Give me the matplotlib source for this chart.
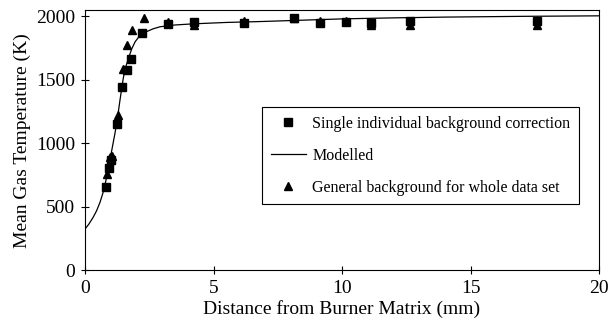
import numpy as np
import matplotlib.pyplot as plt

plt.rcParams['font.family'] = ['Liberation Serif', 'DejaVu Serif']

# single individual background correction
sq_x = [0.82, 0.92, 1.01, 1.25, 1.44, 1.62, 1.80, 2.22, 3.24, 4.23, 6.17,
        8.13, 9.15, 10.16, 11.13, 12.65, 17.6]
sq_y = [656, 804, 870, 1154, 1441, 1581, 1665, 1866, 1937, 1958, 1945,
        1985, 1950, 1955, 1950, 1960, 1960]

# general background for whole data set
tri_x = [0.84, 0.97, 1.05, 1.27, 1.47, 1.62, 1.83, 2.28, 3.24, 4.24, 6.17,
         8.13, 9.15, 10.16, 11.13, 12.65, 17.6]
tri_y = [759, 896, 900, 1220, 1586, 1771, 1889, 1984, 1958, 1929, 1966,
         1985, 1960, 1960, 1935, 1930, 1930]

# modelled
mod_x = [0.0, 0.15, 0.32, 0.45, 0.58, 0.69, 0.8, 0.92, 1.04, 1.17, 1.27, 1.36,
         1.49, 1.59, 1.69, 1.82, 1.95, 2.1, 2.25, 2.40, 2.65, 2.92, 3.5, 4.21, 5.5,
         6.81, 8.5, 10.0, 12.0, 14.0, 17.0, 20.0]
mod_y = [327, 365, 420, 470, 535, 605, 695, 815, 945, 1085, 1210, 1340,
         1515, 1605, 1670, 1745, 1800, 1840, 1864, 1880, 1902, 1918, 1932, 1941, 1952,
         1959, 1970, 1980, 1988, 1994, 2000, 2004]

fig = plt.figure(figsize=(6.09, 3.33), dpi=100)
ax = fig.add_axes([0.1396, 0.1877, 0.8440, 0.7823])

ax.plot(sq_x, sq_y, 's', color='black', markersize=5.5, label='Single individual background correction')
ax.plot(mod_x, mod_y, '-', color='black', linewidth=0.9, label='Modelled')
ax.plot(tri_x, tri_y, '^', color='black', markersize=6, label='General background for whole data set')

ax.set_xlim(0, 20)
ax.set_ylim(0, 2050)
ax.set_xticks([0, 5, 10, 15, 20])
ax.set_yticks([0, 500, 1000, 1500, 2000])
ax.tick_params(direction='inout', length=6, width=0.8, labelsize=14, pad=4)
for s in ax.spines.values():
    s.set_linewidth(0.8)

ax.set_xlabel('Distance from Burner Matrix (mm)', fontsize=14, labelpad=2)
ax.set_ylabel('Mean Gas Temperature (K)', fontsize=14, labelpad=4)

leg = ax.legend(loc='upper left', bbox_to_anchor=(0.344, 0.628), fontsize=11.5,
                frameon=True, fancybox=False, edgecolor='black', framealpha=1,
                handlelength=2.2, handletextpad=0.4, labelspacing=1.0,
                borderpad=0.55, borderaxespad=0)
leg.get_frame().set_linewidth(0.8)

fig.savefig('out.png', dpi=100)
